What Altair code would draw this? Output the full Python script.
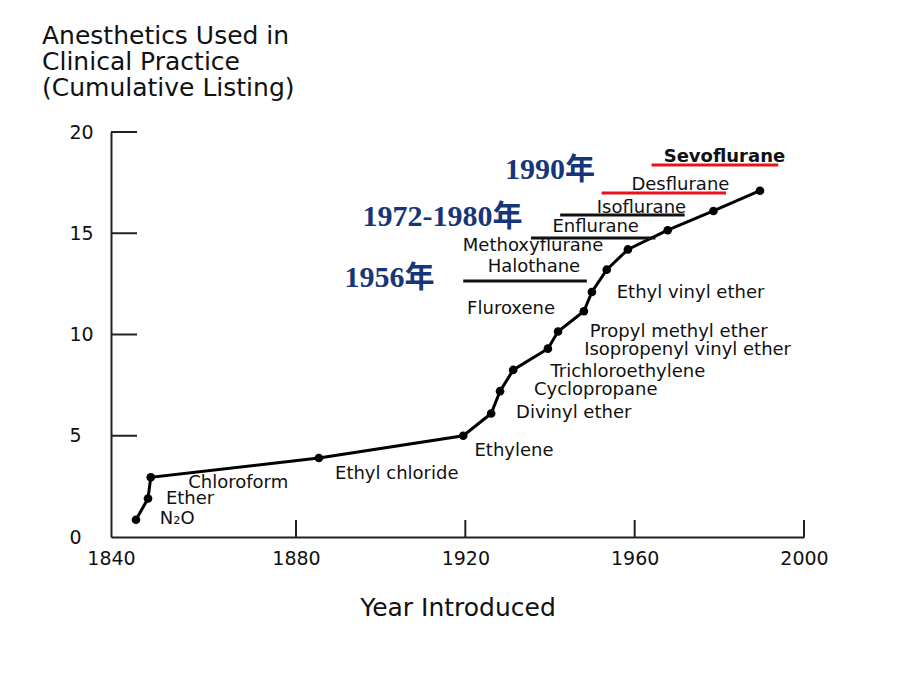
import altair as alt
import pandas as pd

# ---- data ----
agents = ["N₂O", "Ether", "Chloroform", "Ethyl chloride", "Ethylene", "Divinyl ether",
          "Cyclopropane", "Trichloroethylene", "Isopropenyl vinyl ether", "Propyl methyl ether",
          "Fluroxene", "Ethyl vinyl ether", "Halothane", "Methoxyflurane", "Enflurane",
          "Isoflurane", "Desflurane"]
years = [1845.4, 1848.0, 1848.6, 1885.4, 1919.5, 1926.1, 1928.2, 1931.3, 1939.5, 1941.9,
         1948.0, 1949.9, 1953.4, 1958.4, 1967.8, 1978.6, 1989.6]
counts = [0.85, 1.9, 2.95, 3.9, 5.0, 6.1, 7.2, 8.25, 9.3, 10.15, 11.15, 12.1, 13.2, 14.2,
          15.15, 16.1, 17.1]

# label anchors (data units)
label_text = ["N₂O", "Ether", "Chloroform", "Ethyl chloride", "Ethylene", "Divinyl ether",
              "Cyclopropane", "Trichloroethylene", "Isopropenyl vinyl ether", "Propyl methyl ether",
              "Fluroxene", "Ethyl vinyl ether", "Halothane", "Methoxyflurane", "Enflurane",
              "Isoflurane", "Desflurane", "Sevoflurane"]
label_year = [1854.3, 1857.1, 1867.5, 1903.8, 1931.5, 1945.6, 1950.8, 1958.4, 1972.5, 1970.4,
              1930.8, 1973.2, 1936.2, 1936.0, 1950.8, 1961.6, 1970.8, 1981.2]
label_count = [0.79, 1.78, 2.57, 3.01, 4.15, 6.02, 7.16, 8.05, 9.14, 10.02,
               11.16, 11.95, 13.23, 14.27, 15.21, 16.15, 17.28, 18.67]

underline_agent = ["Sevoflurane", "Desflurane", "Isoflurane", "Enflurane", "Halothane"]
underline_start = [1964.0, 1952.2, 1942.4, 1935.5, 1919.5]
underline_end = [1993.9, 1981.6, 1971.8, 1964.9, 1948.7]
underline_count = [18.37, 16.99, 15.90, 14.77, 12.64]

note_text = ["1990年", "1972-1980年", "1956年"]
note_year = [1940.0, 1914.6, 1902.1]
note_count = [18.12, 15.80, 12.79]

x_labels = [1840, 1880, 1920, 1960, 2000]
y_labels = [0, 5, 10, 15, 20]
x_ticks = [1880, 1920, 1960, 2000]
y_ticks = [5, 10, 15, 20]

title_lines = ["Anesthetics Used in", "Clinical Practice", "(Cumulative Listing)"]

# ---- chart ----
W, H = 693, 405
FONT = "DejaVu Sans"
INK = "#111111"

pts = pd.DataFrame({"agent": agents, "year": years, "count": counts})
labs = pd.DataFrame({"text": label_text, "year": label_year, "count": label_count})
unders = pd.DataFrame({"agent": underline_agent, "start": underline_start,
                       "end": underline_end, "count": underline_count})
notes = pd.DataFrame({"text": note_text, "year": note_year, "count": note_count})
xt = pd.DataFrame({"year": x_ticks})
yt = pd.DataFrame({"count": y_ticks})

xscale = alt.Scale(domain=[1840, 1880, 2000], range=[0, 185, W])
yscale = alt.Scale(domain=[0, 20])

x_axis = alt.Axis(values=x_labels, format="d", labelFlush=False, tickSize=0, grid=False,
                  domainColor="#222222", domainWidth=2, labelFont=FONT, labelFontSize=19,
                  labelColor=INK, labelPadding=12, title="Year Introduced",
                  titleFont=FONT, titleFontSize=25, titleFontWeight="normal",
                  titleColor=INK, titlePadding=27)
y_axis = alt.Axis(values=y_labels, tickSize=0, grid=False, labelAlign="left",
                  labelBaseline="middle", labelPadding=42, domainColor="#222222",
                  domainWidth=2, labelFont=FONT, labelFontSize=19, labelColor=INK,
                  title=None)


def X(field):
    return alt.X(field, scale=xscale, axis=x_axis)


def Y(field):
    return alt.Y(field, scale=yscale, axis=y_axis)


line = alt.Chart(pts).mark_line(color="black", strokeWidth=3).encode(
    x=X("year:Q"), y=Y("count:Q"),
)
dots = alt.Chart(pts).mark_circle(color="black", size=75, opacity=1).encode(
    x=X("year:Q"), y=Y("count:Q"),
)
xtick = alt.Chart(xt).mark_rule(color="#222222", strokeWidth=2).encode(
    x=X("year:Q"), y=alt.value(H - 17), y2=alt.value(H),
)
ytick = alt.Chart(yt).mark_rule(color="#222222", strokeWidth=2).encode(
    y=Y("count:Q"), x=alt.value(0), x2=alt.value(26),
)
labels = alt.Chart(labs).transform_filter(alt.datum.text != "Sevoflurane").mark_text(
    font=FONT, fontSize=18, color=INK, align="center", baseline="middle", dy=-2
).encode(x=X("year:Q"), y=Y("count:Q"), text="text:N")
labels_bold = alt.Chart(labs).transform_filter(alt.datum.text == "Sevoflurane").mark_text(
    font=FONT, fontSize=18, fontWeight="bold", color=INK, align="center", baseline="middle",
    dy=-2
).encode(x=X("year:Q"), y=Y("count:Q"), text="text:N")
ulines = alt.Chart(unders).mark_rule(strokeWidth=3).encode(
    x=X("start:Q"), x2="end:Q", y=Y("count:Q"),
    color=alt.condition(
        (alt.datum.agent == "Sevoflurane") | (alt.datum.agent == "Desflurane"),
        alt.value("#e8141b"), alt.value("#111111")),
)
note_marks = alt.Chart(notes).mark_text(font="Liberation Serif, Noto Sans CJK SC",
                                        fontSize=30, fontWeight="bold", color="#17367a",
                                        align="center", baseline="middle").encode(
    x=X("year:Q"), y=Y("count:Q"), text="text:N",
)

chart = alt.layer(line, xtick, ytick, dots, ulines, labels, labels_bold, note_marks).properties(
    width=W, height=H,
    autosize=alt.AutoSizeParams(type="none"),
    padding={"left": 103, "top": 124, "right": 100, "bottom": 130},
    background="white",
    title=alt.TitleParams(text=title_lines, anchor="start", frame="group", dx=-69,
                          font=FONT, fontSize=25, fontWeight="normal", lineHeight=26,
                          color=INK, offset=22),
).configure_view(stroke=None)

chart.save("out.html", embed_options={"renderer": "svg", "actions": False})
